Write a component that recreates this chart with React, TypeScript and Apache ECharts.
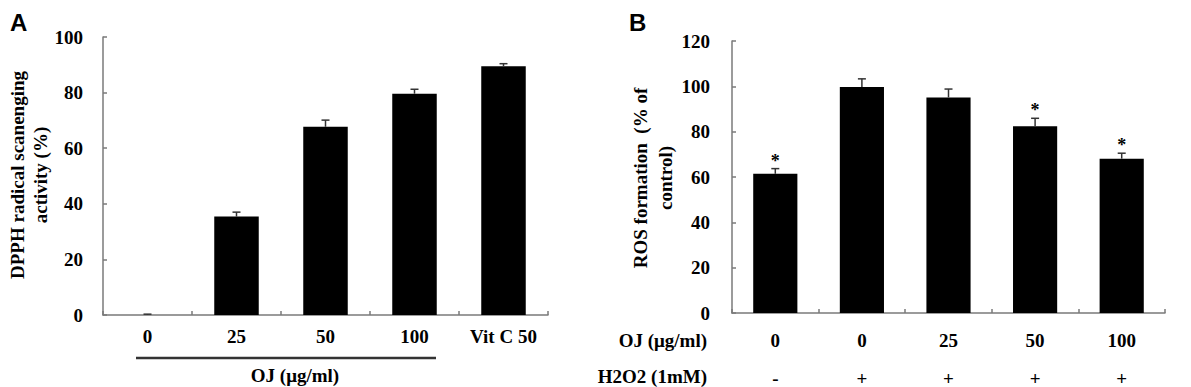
import React, { useEffect, useRef } from "react";
import * as echarts from "echarts";

const catsA = ["0", "25", "50", "100", "Vit C 50"];
const valsA = [0, 35.4, 67.7, 79.6, 89.5];
const errA = [0.3, 1.6, 2.4, 1.6, 0.9];

const ojB = ["0", "0", "25", "50", "100"];
const h2o2B = ["-", "+", "+", "+", "+"];
const valsB = [61.4, 99.7, 95.1, 82.4, 68.1];
const errB = [2.3, 3.6, 3.7, 3.5, 2.4];
const sigB = ["*", "", "", "*", "*"];

const FONT = "'Liberation Serif', 'Times New Roman', serif";
const FS = 19;
const AXIS_COLOR = "#7a7a7a";

function errorSeries(xAxisIndex: number, vals: number[], errs: number[], sig: string[] | null) {
  return {
    type: "custom",
    xAxisIndex,
    yAxisIndex: xAxisIndex,
    silent: true,
    z: 5,
    data: vals.map((v, i) => [i, v, v + errs[i]]),
    renderItem: (params: any, api: any) => {
      const i = api.value(0);
      const base = api.coord([i, api.value(1)]);
      const top = api.coord([i, api.value(2)]);
      const s = sig ? sig[i] : "";
      const cap = 4;
      const children: any[] = [
        { type: "line", shape: { x1: base[0], y1: base[1], x2: top[0], y2: top[1] }, style: { stroke: "#333", lineWidth: 1.5 } },
        { type: "line", shape: { x1: top[0] - cap, y1: top[1], x2: top[0] + cap, y2: top[1] }, style: { stroke: "#333", lineWidth: 1.5 } },
      ];
      if (s) {
        children.push({
          type: "text",
          x: top[0],
          y: top[1] + 1,
          style: { text: s, fontFamily: FONT, fontWeight: "bold", fontSize: 18, fill: "#000", align: "center", verticalAlign: "bottom" },
        });
      }
      return { type: "group", children };
    },
  };
}

const axisLine = { show: true, lineStyle: { color: AXIS_COLOR, width: 1.5 } };
const axisTick = { show: true, inside: true, length: 4, lineStyle: { color: AXIS_COLOR, width: 1.5 } };
const labelStyle = { fontFamily: FONT, fontWeight: "bold" as const, fontSize: FS, color: "#000" };
const textStyle = { fontFamily: FONT, fontWeight: "bold", fontSize: FS, fill: "#000" };

export default function App() {
  const ref = useRef<HTMLDivElement>(null);
  useEffect(() => {
    document.body.style.margin = "0";
    if (!ref.current) return;
    const chart = echarts.init(ref.current, undefined, { renderer: "svg" });
    chart.setOption({
      animation: false,
      backgroundColor: "#fff",
      grid: [
        { left: 103, right: 643, top: 37, bottom: 72, containLabel: false, outerBoundsMode: "none" },
        { left: 732, right: 26, top: 41, bottom: 74, containLabel: false, outerBoundsMode: "none" },
      ],
      xAxis: [
        {
          type: "category",
          gridIndex: 0,
          data: catsA,
          axisLine,
          axisTick,
          axisLabel: { ...labelStyle, margin: 12 },
          splitLine: { show: false },
        },
        {
          type: "category",
          gridIndex: 1,
          data: ojB,
          axisLine,
          axisTick,
          axisLabel: {
            ...labelStyle,
            margin: 8,
            lineHeight: 38,
            formatter: (v: string, i: number) => v + "\n" + h2o2B[i],
          },
          splitLine: { show: false },
        },
      ],
      yAxis: [
        {
          type: "value",
          gridIndex: 0,
          min: 0,
          max: 100,
          interval: 20,
          axisLine,
          axisTick,
          axisLabel: { ...labelStyle, margin: 20 },
          splitLine: { show: false },
        },
        {
          type: "value",
          gridIndex: 1,
          min: 0,
          max: 120,
          interval: 20,
          axisLine,
          axisTick,
          axisLabel: { ...labelStyle, margin: 22 },
          splitLine: { show: false },
        },
      ],
      series: [
        {
          type: "bar",
          xAxisIndex: 0,
          yAxisIndex: 0,
          data: valsA,
          barWidth: "50%",
          itemStyle: { color: "#000" },
          silent: true,
        },
        errorSeries(0, valsA, errA, null),
        {
          type: "bar",
          xAxisIndex: 1,
          yAxisIndex: 1,
          data: valsB,
          barWidth: "51%",
          itemStyle: { color: "#000" },
          silent: true,
        },
        errorSeries(1, valsB, errB, sigB),
      ],
      graphic: [
        { type: "text", left: 10, top: 10, style: { text: "A", fontFamily: "'Liberation Sans', Arial, sans-serif", fontWeight: "bold", fontSize: 24, fill: "#000" } },
        { type: "text", left: 629, top: 10, style: { text: "B", fontFamily: "'Liberation Sans', Arial, sans-serif", fontWeight: "bold", fontSize: 24, fill: "#000" } },
        {
          type: "text",
          x: 29,
          y: 175,
          rotation: Math.PI / 2,
          style: { text: "DPPH radical scanenging\nactivity (%)", ...textStyle, lineHeight: 23, align: "center", verticalAlign: "middle" },
        },
        {
          type: "text",
          x: 653,
          y: 178,
          rotation: Math.PI / 2,
          style: { text: "ROS formation  (% of\ncontrol)", ...textStyle, lineHeight: 25, align: "center", verticalAlign: "middle" },
        },
        { type: "line", shape: { x1: 136, y1: 358, x2: 436, y2: 358 }, style: { stroke: "#333", lineWidth: 2.5 } },
        { type: "text", x: 295, y: 375, style: { text: "OJ (μg/ml)", ...textStyle, align: "center", verticalAlign: "middle" } },
        { type: "text", x: 707, y: 340, style: { text: "OJ (μg/ml)", ...textStyle, align: "right", verticalAlign: "middle" } },
        { type: "text", x: 707, y: 376, style: { text: "H2O2 (1mM)", ...textStyle, align: "right", verticalAlign: "middle" } },
      ],
    });
    return () => chart.dispose();
  }, []);
  return <div ref={ref} style={{ width: 1191, height: 387 }} />;
}
